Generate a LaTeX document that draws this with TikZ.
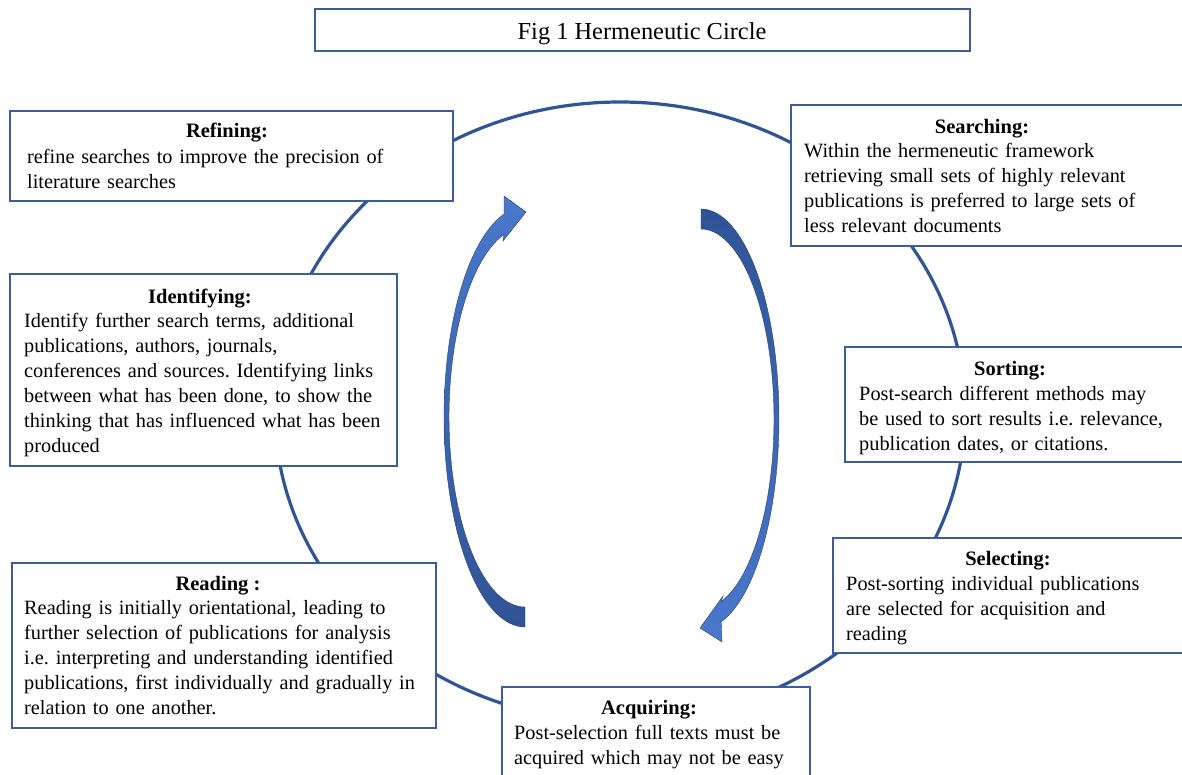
\documentclass[tikz,border=0pt]{standalone}
\usepackage{fontspec}
\setmainfont{Liberation Serif}
\frenchspacing
\definecolor{cline}{HTML}{2F5597}
\definecolor{boxc}{HTML}{3A5D9C}
\definecolor{alight}{HTML}{4A78CC}
\definecolor{adark}{HTML}{2F5395}
\begin{document}
\begin{tikzpicture}[x=1pt,y=-1pt,
  box/.style={draw=boxc, line width=1.3pt, fill=white, inner sep=0pt, outer sep=0pt, anchor=north west},
  ttl/.style={font=\fontsize{20.5}{25}\selectfont\bfseries, inner sep=0pt, anchor=base},
  body/.style={font=\fontsize{20.3}{25}\selectfont\frenchspacing, inner sep=0pt, anchor=north west, text width=460pt, align=left},
  ring/.style={draw=cline, line width=3.2pt},
  larrow/.style={top color=alight, bottom color=adark, draw=adark!80!black, line width=0.4pt},
  rarrow/.style={top color=adark, bottom color=alight, draw=adark!80!black, line width=0.4pt}]
\useasboundingbox (0,0) rectangle (1182,774);
\fill[white] (0,0) rectangle (1182,774);

% circle
\draw[ring] (620,412) ellipse [x radius=345, y radius=310];

% curved arrows
\path[larrow] plot[domain=90:255, samples=60] ({525+81*cos(\x)},{417+210*sin(\x)})
  -- (504,196) -- (526,212) -- (503,241)
  -- plot[domain=254:90, samples=60] ({525+76*cos(\x)},{417+190*sin(\x)}) -- cycle;
\path[rarrow] plot[domain=-90:75, samples=60] ({701+78*cos(\x)},{419+210*sin(\x)})
  -- (722,642) -- (700,628) -- (723,596)
  -- plot[domain=74:-90, samples=60] ({701+73*cos(\x)},{419+190*sin(\x)}) -- cycle;

% title
\node[box, minimum width=655pt, minimum height=42pt] (tB) at (315,9) {};
\node[font=\fontsize{24.4}{28}\selectfont, inner sep=0pt, anchor=base] (tT) at (642,39) {Fig 1 Hermeneutic Circle};

% Refining
\node[box, minimum width=443pt, minimum height=90pt] (refB) at (10,111) {};
\node[ttl] (refT) at (227,137) {Refining:};
\node[body] (refX) at (27,145.5) {\strut refine searches to improve the precision of\\literature searches};

% Searching
\node[box, minimum width=420pt, minimum height=141pt] (seaB) at (791,105) {};
\node[ttl] (seaT) at (982,133) {Searching:};
\node[body] (seaX) at (804,139.5) {\strut Within the hermeneutic framework\\retrieving small sets of highly relevant\\publications is preferred to large sets of\\less relevant documents};

% Identifying
\node[box, minimum width=387pt, minimum height=192pt] (idB) at (10,274) {};
\node[ttl] (idT) at (200,303) {Identifying:};
\node[body] (idX) at (24,309.5) {\strut Identify further search terms, additional\\publications, authors, journals,\\conferences and sources. Identifying links\\between what has been done, to show the\\thinking that has influenced what has been\\produced};

% Sorting
\node[box, minimum width=360pt, minimum height=115pt] (sorB) at (845,347) {};
\node[ttl] (sorT) at (1010,375) {Sorting:};
\node[body] (sorX) at (859,382.5) {\strut Post-search different methods may\\be used to sort results i.e. relevance,\\publication dates, or citations.};

% Selecting
\node[box, minimum width=370pt, minimum height=115pt] (selB) at (833,538) {};
\node[ttl] (selT) at (1008,565) {Selecting:};
\node[body] (selX) at (846,572.5) {\strut Post-sorting individual publications\\are selected for acquisition and\\reading};

% Reading
\node[box, minimum width=424pt, minimum height=165pt] (reaB) at (12,563) {};
\node[ttl] (reaT) at (218,590) {Reading :};
\node[body] (reaX) at (24,596.5) {\strut Reading is initially orientational, leading to\\further selection of publications for analysis\\i.e. interpreting and understanding identified\\publications, first individually and gradually in\\relation to one another.};

% Acquiring
\node[box, minimum width=308pt, minimum height=120pt] (acqB) at (502,687) {};
\node[ttl] (acqT) at (649,714) {Acquiring:};
\node[body] (acqX) at (514,721.5) {\strut Post-selection full texts must be\\acquired which may not be easy};
\end{tikzpicture}
\end{document}
